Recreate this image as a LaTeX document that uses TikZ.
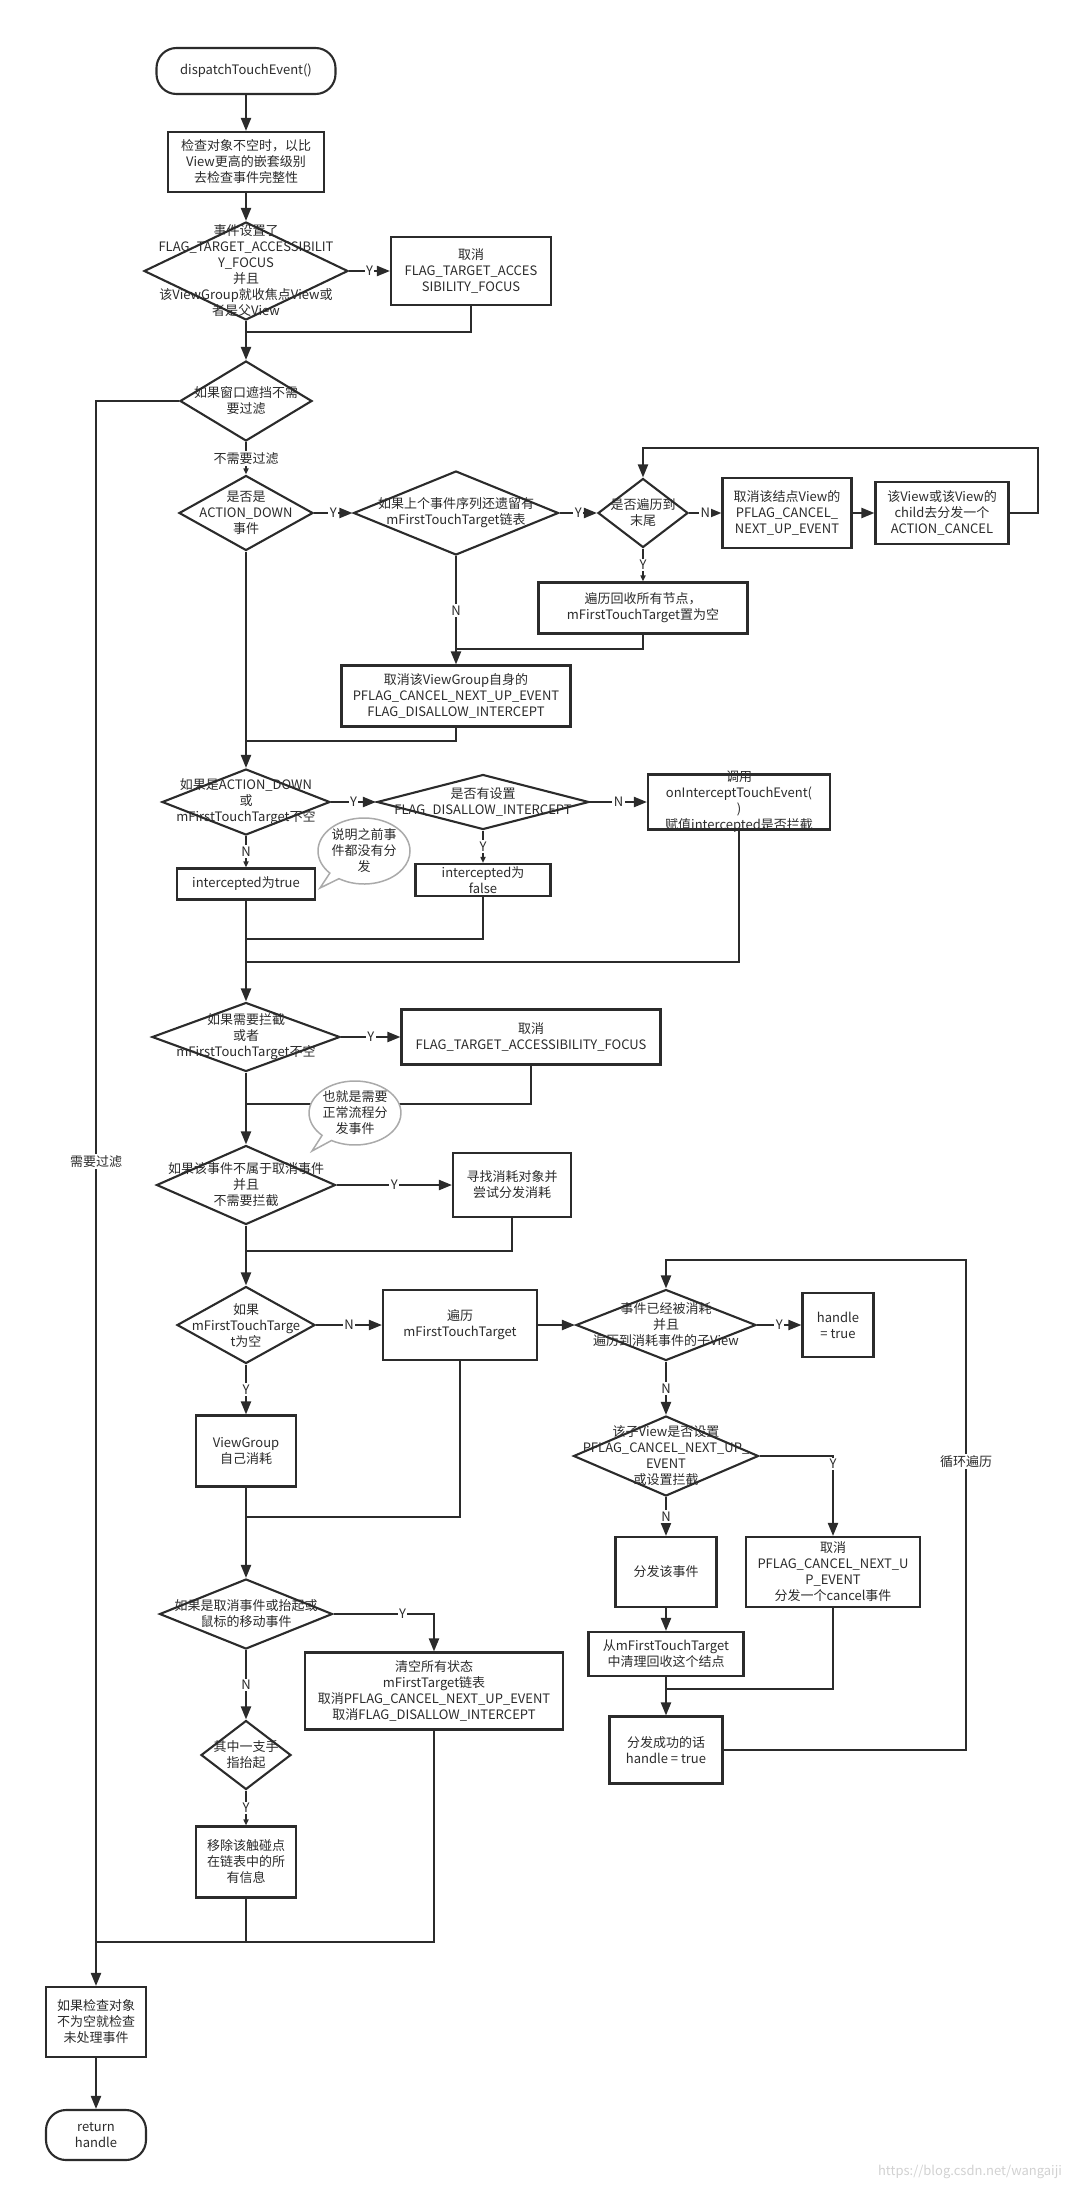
\documentclass[tikz,border=0pt]{standalone}
\usepackage{fontspec}
\setmainfont{Noto Sans CJK SC}
\usepackage{tikz}
\usetikzlibrary{positioning,shapes.geometric,shapes.callouts,arrows.meta}
\definecolor{lc}{HTML}{2B2B2B}
\definecolor{bubc}{HTML}{AAAAAA}
\newcommand{\bnode}[5]{\node [box, minimum width=#3pt, minimum height=#4pt] (#1) at (#2) {}; \node [txt] (#1t) at (#1) {#5}}
\newcommand{\dnode}[5]{\node [dia, minimum width=#3pt, minimum height=#4pt] (#1) at (#2) {}; \node [txt] (#1t) at (#1) {#5}}
\newcommand{\tnode}[5]{\node [term, minimum width=#3pt, minimum height=#4pt] (#1) at (#2) {}; \node [txt] (#1t) at (#1) {#5}}

\begin{document}
\begin{tikzpicture}[x=1pt, y=-1pt,
  box/.style={draw=lc, line width=2.1pt, rectangle, inner sep=0pt},
  dia/.style={draw=lc, line width=2.1pt, diamond, inner sep=0pt},
  term/.style={draw=lc, line width=2.1pt, rectangle, rounded corners=20pt, inner sep=0pt},
  txt/.style={align=center, text=lc, font=\fontsize{13}{16}\selectfont, inner sep=0pt},
  conn/.style={draw=lc, line width=2.1pt},
  arr/.style={conn, -{Triangle[length=13pt,width=10pt]}},
  sarr/.style={conn, -{Triangle[length=6pt,width=5pt]}},
  lbl/.style={fill=white, text=lc, inner sep=1.5pt, font=\fontsize{13}{16}\selectfont},
  bub/.style={ellipse callout, draw=bubc, line width=1.5pt, fill=white, align=center, text=lc, inner sep=0pt, font=\fontsize{13}{16}\selectfont}]
\useasboundingbox (0,0) rectangle (1083,2190);

\tnode{start}{246,71}{179}{46}{dispatchTouchEvent()};
\bnode{chk}{246,162}{156}{60}{检查对象不空时，以比\\View更高的嵌套级别\\去检查事件完整性};
\dnode{dfocus}{246,271}{204}{98}{事件设置了\\FLAG\_TARGET\_ACCESSIBILIT\\Y\_FOCUS\\并且\\该ViewGroup就收焦点View或\\者是父View};
\bnode{cfocus}{471,271}{160}{68}{取消\\FLAG\_TARGET\_ACCES\\SIBILITY\_FOCUS};
\dnode{dwin}{246,401}{132}{80}{如果窗口遮挡不需\\要过滤};
\dnode{ddown}{246,513}{134}{75}{是否是\\ACTION\_DOWN\\事件};
\dnode{dprev}{456,513}{205}{84}{如果上个事件序列还遗留有\\mFirstTouchTarget链表};
\dnode{dend}{643,513}{90}{69}{是否遍历到\\末尾};
\bnode{cnode}{787,513}{129}{70}{取消该结点View的\\PFLAG\_CANCEL\_\\NEXT\_UP\_EVENT};
\bnode{cchild}{942,513}{133}{62}{该View或该View的\\child去分发一个\\ACTION\_CANCEL};
\bnode{recyc}{643,608}{209}{51}{遍历回收所有节点，\\mFirstTouchTarget置为空};
\bnode{cself}{456,696}{229}{61}{取消该ViewGroup自身的\\PFLAG\_CANCEL\_NEXT\_UP\_EVENT\\FLAG\_DISALLOW\_INTERCEPT};
\dnode{dint}{246,802}{168}{66}{如果是ACTION\_DOWN\\或\\mFirstTouchTarget不空};
\dnode{ddis}{483,802}{212}{55}{是否有设置\\FLAG\_DISALLOW\_INTERCEPT};
\bnode{oncall}{739,802}{182}{55}{调用\\onInterceptTouchEvent(\\)\\赋值intercepted是否拦截};
\bnode{itrue}{246,884}{138}{31}{intercepted为true};
\bnode{ifalse}{483,880}{135}{32}{intercepted为\\false};
\dnode{dneed}{246,1037}{188}{69}{如果需要拦截\\或者\\mFirstTouchTarget不空};
\bnode{cfocus2}{531,1037}{259}{55}{取消\\FLAG\_TARGET\_ACCESSIBILITY\_FOCUS};
\dnode{dcan}{246,1185}{179}{79}{如果该事件不属于取消事件\\并且\\不需要拦截};
\bnode{find}{512,1185}{118}{64}{寻找消耗对象并\\尝试分发消耗};
\dnode{dnull}{246,1325}{138}{77}{如果\\mFirstTouchTarge\\t为空};
\bnode{trav}{460,1325}{154}{70}{遍历\\mFirstTouchTarget};
\dnode{dcons}{666,1325}{180}{71}{事件已经被消耗\\并且\\遍历到消耗事件的子View};
\bnode{htrue}{838,1325}{71}{64}{handle\\= true};
\dnode{dflag}{666,1456}{185}{80}{该子View是否设置\\PFLAG\_CANCEL\_NEXT\_UP\_\\EVENT\\或设置拦截};
\bnode{disp}{666,1572}{101}{70}{分发该事件};
\bnode{cancel}{833,1572}{174}{70}{取消\\PFLAG\_CANCEL\_NEXT\_U\\P\_EVENT\\分发一个cancel事件};
\bnode{clean}{666,1654}{155}{44}{从mFirstTouchTarget\\中清理回收这个结点};
\bnode{succ}{666,1750}{113}{67}{分发成功的话\\handle = true};
\bnode{self}{246,1451}{100}{71}{ViewGroup\\自己消耗};
\dnode{dup}{246,1614}{173}{70}{如果是取消事件或抬起或\\鼠标的移动事件};
\bnode{clear}{434,1691}{258}{77}{清空所有状态\\mFirstTarget链表\\取消PFLAG\_CANCEL\_NEXT\_UP\_EVENT\\取消FLAG\_DISALLOW\_INTERCEPT};
\dnode{dfinger}{246,1755}{90}{69}{其中一支手\\指抬起};
\bnode{remove}{246,1862}{100}{71}{移除该触碰点\\在链表中的所\\有信息};
\bnode{unh}{96,2022}{100}{70}{如果检查对象\\不为空就检查\\未处理事件};
\tnode{ret}{96,2135}{100}{50}{return\\handle};

\coordinate (j1) at (246,332);
\coordinate (j2) at (456,649);
\coordinate (j3) at (246,741);
\coordinate (j4) at (246,939);
\coordinate (j5) at (246,962);
\coordinate (j6) at (246,1104);
\coordinate (j7) at (246,1251);
\coordinate (j8) at (246,1517);
\coordinate (j9) at (666,1689);
\coordinate (j10) at (96,1942);
\coordinate (lp1) at (1038,448);
\coordinate (lp2) at (966,1260);

\draw[arr] (start) -- (chk);
\draw[arr] (chk) -- (dfocus);
\draw[arr] (dfocus.east) -- (cfocus.west) node [midway, lbl] () {Y};
\draw[conn] (cfocus.south) |- (j1);
\draw[arr] (dfocus.south) -- (dwin.north);
\draw[arr] (dwin.west) -| (unh.north) node [pos=0.74, lbl] () {需要过滤};
\draw[sarr] (dwin.south) -- (ddown.north) node [midway, lbl] () {不需要过滤};
\draw[arr] (ddown.east) -- (dprev.west) node [midway, lbl] () {Y};
\draw[arr] (dprev.east) -- (dend.west) node [midway, lbl] () {Y};
\draw[arr] (dend.east) -- (cnode.west) node [midway, lbl] () {N};
\draw[arr] (cnode.east) -- (cchild.west);
\draw[arr] (cchild.east) -| (lp1) -| (dend.north);
\draw[sarr] (dend.south) -- (recyc.north) node [midway, lbl] () {Y};
\draw[conn] (recyc.south) |- (j2);
\draw[arr] (dprev.south) -- (cself.north) node [midway, lbl] () {N};
\draw[conn] (cself.south) |- (j3);
\draw[arr] (ddown.south) -- (dint.north);
\draw[arr] (dint.east) -- (ddis.west) node [midway, lbl] () {Y};
\draw[arr] (ddis.east) -- (oncall.west) node [midway, lbl] () {N};
\draw[sarr] (dint.south) -- (itrue.north) node [midway, lbl] () {N};
\draw[sarr] (ddis.south) -- (ifalse.north) node [midway, lbl] () {Y};
\draw[arr] (itrue.south) -- (dneed.north);
\draw[conn] (ifalse.south) |- (j4);
\draw[conn] (oncall.south) |- (j5);
\draw[arr] (dneed.east) -- (cfocus2.west) node [midway, lbl] () {Y};
\draw[arr] (dneed.south) -- (dcan.north);
\draw[conn] (cfocus2.south) |- (j6);
\draw[arr] (dcan.east) -- (find.west) node [midway, lbl] () {Y};
\draw[arr] (dcan.south) -- (dnull.north);
\draw[conn] (find.south) |- (j7);
\draw[arr] (dnull.east) -- (trav.west) node [midway, lbl] () {N};
\draw[arr] (dnull.south) -- (self.north) node [midway, lbl] () {Y};
\draw[arr] (trav.east) -- (dcons.west);
\draw[arr] (dcons.east) -- (htrue.west) node [midway, lbl] () {Y};
\draw[arr] (dcons.south) -- (dflag.north) node [midway, lbl] () {N};
\draw[arr] (dflag.east) -| (cancel.north) node [pos=0.55, lbl] () {Y};
\draw[arr] (dflag.south) -- (disp.north) node [midway, lbl] () {N};
\draw[arr] (disp.south) -- (clean.north);
\draw[arr] (clean.south) -- (succ.north);
\draw[conn] (cancel.south) |- (j9);
\draw[arr] (succ.east) -| (lp2) node [pos=0.794, lbl] () {循环遍历} -| (dcons.north);
\draw[conn] (trav.south) |- (j8);
\draw[arr] (self.south) -- (dup.north);
\draw[arr] (dup.east) -| (clear.north) node [pos=0.343, lbl] () {Y};
\draw[arr] (dup.south) -- (dfinger.north) node [midway, lbl] () {N};
\draw[sarr] (dfinger.south) -- (remove.north) node [midway, lbl] () {Y};
\draw[conn] (remove.south) |- (j10);
\draw[conn] (clear.south) |- (remove.south |- j10);
\draw[arr] (unh.south) -- (ret.north);

\node [bub, minimum width=92pt, minimum height=66pt, callout absolute pointer={(320,888)}] (bub1) at (364,851) {说明之前事\\件都没有分\\发};
\node [bub, minimum width=88pt, minimum height=64pt, callout absolute pointer={(312,1151)}] (bub2) at (355,1113) {也就是需要\\正常流程分\\发事件};

\node [text=black!18, font=\fontsize{13}{15}\selectfont] (wm) at (970,2172) {https://blog.csdn.net/wangaiji};
\end{tikzpicture}
\end{document}
